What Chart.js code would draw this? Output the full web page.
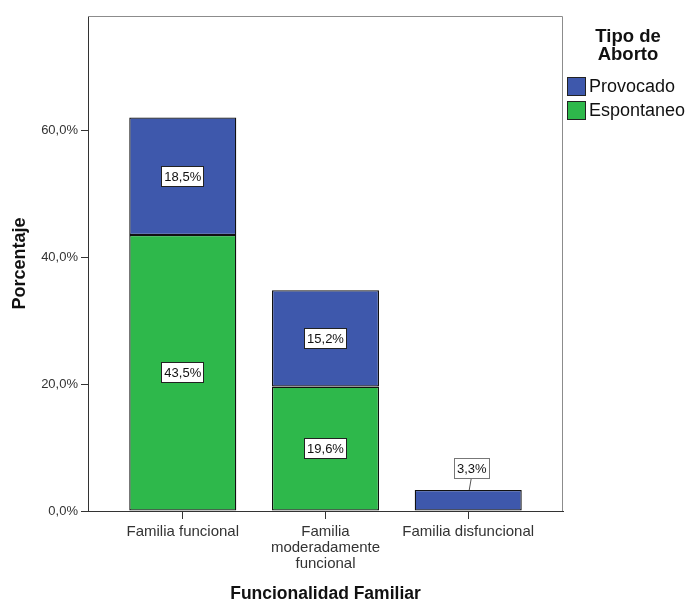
<!DOCTYPE html>
<html><head><meta charset="utf-8">
<script src="https://cdn.jsdelivr.net/npm/chart.js@4/dist/chart.umd.min.js"></script>
<style>html,body{margin:0;padding:0;background:#fff}#wrap{width:691px;height:601px;position:relative}</style>
</head><body><div id="wrap"><canvas id="c" width="691" height="601"></canvas></div>
<script>
const categories = [['Familia funcional'], ['Familia', 'moderadamente', 'funcional'], ['Familia disfuncional']];
const espontaneo = [43.5, 19.6, null];
const provocado = [18.5, 15.2, 3.3];
const seriesNames = ['Espontaneo', 'Provocado'];
const yTickValues = [0, 20, 40, 60];
const legendTitle = ['Tipo de', 'Aborto'];
const xTitle = 'Funcionalidad Familiar';
const yTitle = 'Porcentaje';

const BLUE = '#3E58AC', GREEN = '#2EB84B';
const FONT = "'Liberation Sans', Arial, sans-serif";
const fmt = v => v.toFixed(1).replace('.', ',') + '%';

const toPts = arr => arr.map((v, i) => ({x: i, y: v}));

const frameAndLabels = {
  id: 'frameAndLabels',
  beforeDatasetsDraw(chart) {
    const {ctx, chartArea: a} = chart;
    ctx.save();
    ctx.strokeStyle = '#8c8c8c';
    ctx.lineWidth = 1;
    ctx.beginPath();
    ctx.moveTo(a.left, a.top + 0.5);
    ctx.lineTo(a.right - 0.5, a.top + 0.5);
    ctx.lineTo(a.right - 0.5, a.bottom);
    ctx.stroke();
    ctx.restore();
  },
  afterDatasetsDraw(chart) {
    const ctx = chart.ctx;
    ctx.save();
    ctx.font = '13px ' + FONT;
    ctx.textAlign = 'center';
    ctx.textBaseline = 'middle';
    chart.data.datasets.forEach((ds, di) => {
      const meta = chart.getDatasetMeta(di);
      meta.data.forEach((el, i) => {
        const v = ds.data[i].y;
        if (v == null) return;
        const txt = fmt(v);
        const w = ctx.measureText(txt).width + 6;
        const h = 21;
        const segH = Math.abs(el.base - el.y);
        let cx = el.x, cy = (el.y + el.base) / 2;
        let border = '#222';
        let outside = segH < h + 6;
        if (outside) {
          cx = el.x + 3.5;
          cy = el.y - 22;
          border = '#777';
          ctx.strokeStyle = '#555';
          ctx.lineWidth = 1;
          ctx.beginPath();
          ctx.moveTo(cx - 0.5, cy + h / 2);
          ctx.lineTo(el.x + 1, el.y);
          ctx.stroke();
        }
        ctx.fillStyle = '#fff';
        ctx.fillRect(Math.round(cx - w / 2), Math.round(cy - h / 2), Math.round(w), h);
        ctx.strokeStyle = border;
        ctx.lineWidth = 1;
        ctx.strokeRect(Math.round(cx - w / 2) + 0.5, Math.round(cy - h / 2) + 0.5, Math.round(w) - 1, h - 1);
        ctx.fillStyle = '#111';
        ctx.fillText(txt, cx, cy + 1);
      });
    });
    ctx.restore();
  },
  afterDraw(chart) {
    const ctx = chart.ctx;
    ctx.save();
    ctx.fillStyle = '#111';
    ctx.textAlign = 'center';
    ctx.textBaseline = 'middle';
    ctx.font = 'bold 18.5px ' + FONT;
    legendTitle.forEach((t, i) => ctx.fillText(t, 628, 37 + i * 18));
    const items = chart.data.datasets.map(d => ({label: d.label, color: d.backgroundColor})).reverse();
    ctx.font = '18px ' + FONT;
    ctx.textAlign = 'left';
    items.forEach((it, i) => {
      const y = 77 + i * 24;
      ctx.fillStyle = it.color;
      ctx.fillRect(567, y, 19, 19);
      ctx.strokeStyle = '#222';
      ctx.lineWidth = 1;
      ctx.strokeRect(567.5, y + 0.5, 18, 18);
      ctx.fillStyle = '#111';
      ctx.fillText(it.label, 589, y + 10.5);
    });
    ctx.restore();
  }
};

new Chart(document.getElementById('c'), {
  type: 'bar',
  data: {
    datasets: [
      {label: seriesNames[0], data: toPts(espontaneo), backgroundColor: GREEN, borderColor: '#111', borderWidth: 1.3, borderSkipped: false},
      {label: seriesNames[1], data: toPts(provocado), backgroundColor: BLUE, borderColor: '#111', borderWidth: 1.3, borderSkipped: false}
    ]
  },
  options: {
    responsive: false,
    animation: false,
    layout: {padding: {top: 16, left: 0, right: 128, bottom: 0}},
    datasets: {bar: {categoryPercentage: 1, barPercentage: 0.75}},
    plugins: {legend: {display: false}, tooltip: {enabled: false}},
    scales: {
      x: {
        type: 'linear',
        stacked: true,
        offset: false,
        min: -0.664,
        max: 2.664,
        afterBuildTicks: s => { s.ticks = categories.map((_, i) => ({value: i})); },
        afterFit: s => { s.height = 90; },
        ticks: {
          callback: v => categories[v],
          autoSkip: false,
          maxRotation: 0,
          padding: 5,
          color: '#333',
          font: {family: FONT, size: 15, lineHeight: 1.07}
        },
        grid: {offset: false, drawOnChartArea: false, drawTicks: true, tickLength: 8, color: '#333'},
        border: {display: true, color: '#333', width: 1},
        title: {display: true, text: xTitle, color: '#111', padding: 0, font: {family: FONT, size: 17.5, weight: 'bold', lineHeight: '14px'}}
      },
      y: {
        stacked: true,
        min: 0,
        max: 78,
        afterBuildTicks: s => { s.ticks = yTickValues.map(v => ({value: v})); },
        afterFit: s => { s.width = 88; },
        ticks: {
          callback: v => fmt(v),
          padding: 3,
          color: '#333',
          font: {family: FONT, size: 13}
        },
        grid: {drawOnChartArea: false, drawTicks: true, tickLength: 7, color: '#333'},
        border: {display: true, color: '#333', width: 1},
        title: {display: true, text: yTitle, color: '#111', padding: {top: 11, bottom: 0}, font: {family: FONT, size: 18, weight: 'bold', lineHeight: 1}}
      }
    }
  },
  plugins: [frameAndLabels]
});
</script></body></html>
